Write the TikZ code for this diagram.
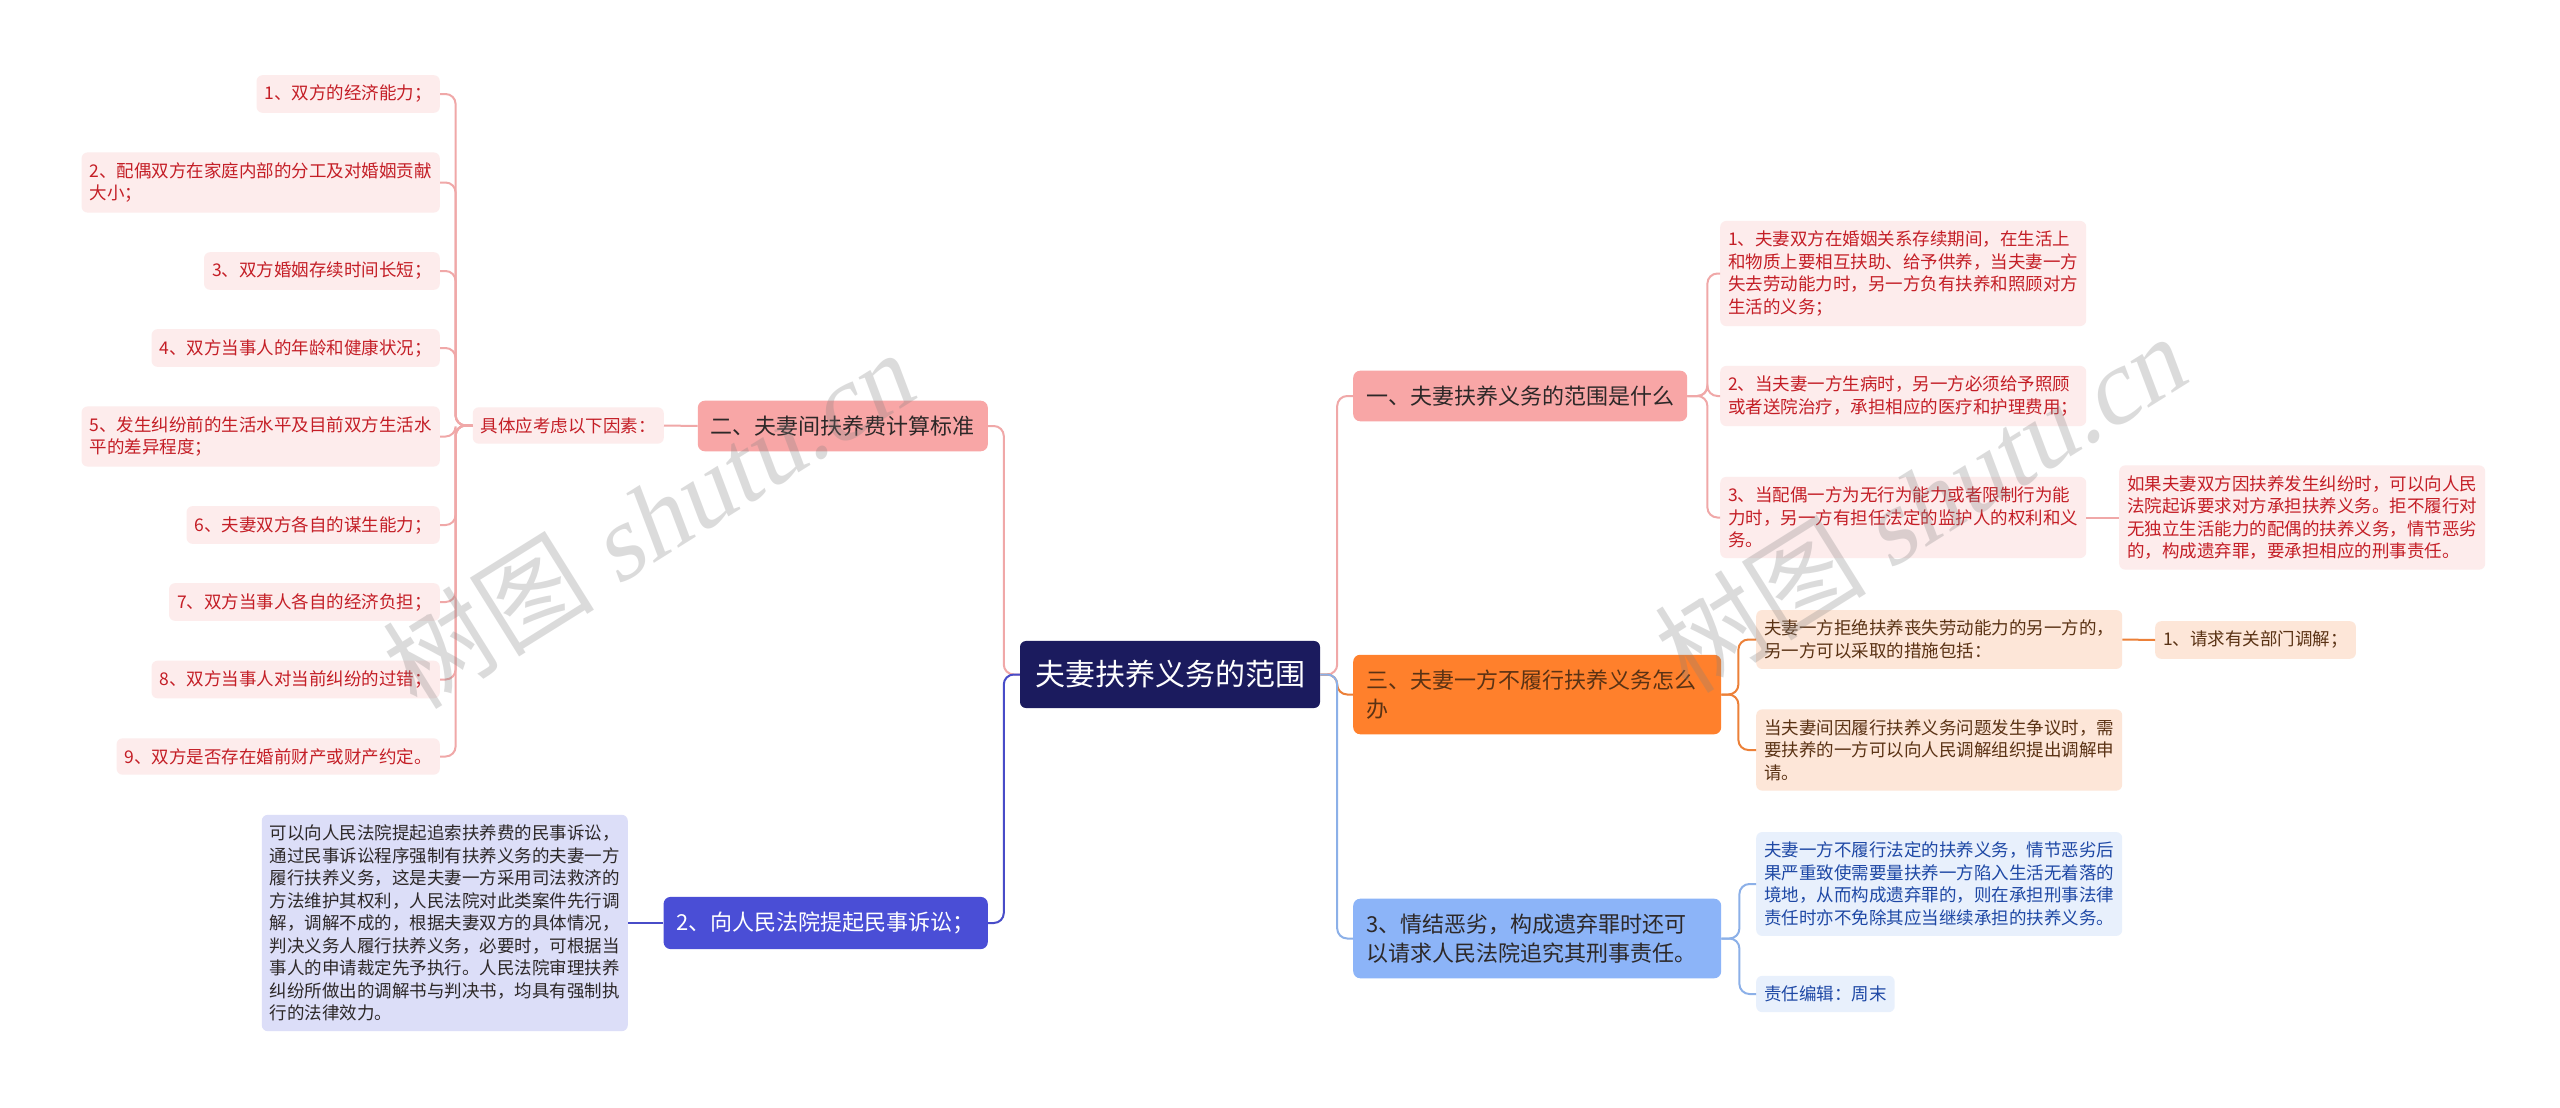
\documentclass[tikz,border=0pt]{standalone}
\usepackage{fontspec}
\setmainfont{Noto Sans CJK SC}
\newfontfamily\markfont[FakeSlant=0.2]{Liberation Serif}
\usepackage{xcolor}
\usetikzlibrary{positioning, calc}

\definecolor{rootfill}{RGB}{27,27,94}
\definecolor{pinkfill}{RGB}{248,166,166}
\definecolor{pinkleaf}{RGB}{253,236,236}
\definecolor{pinktext}{RGB}{196,30,38}
\definecolor{pinkline}{RGB}{240,168,168}
\definecolor{orangefill}{RGB}{255,128,44}
\definecolor{orangeleaf}{RGB}{253,230,216}
\definecolor{orangetext}{RGB}{90,50,20}
\definecolor{orangeline}{RGB}{236,128,56}
\definecolor{bluefill}{RGB}{140,180,248}
\definecolor{blueleaf}{RGB}{232,240,252}
\definecolor{bluetext}{RGB}{30,72,165}
\definecolor{blueline}{RGB}{140,176,232}
\definecolor{indigofill}{RGB}{74,78,214}
\definecolor{indigoleaf}{RGB}{220,222,248}
\definecolor{indigoline}{RGB}{72,76,200}
\definecolor{darktext}{RGB}{45,40,40}

\begin{document}
\begin{tikzpicture}[x=1pt, y=-1pt,
    rootbox/.style={fill=rootfill, text=white, rounded corners=6, inner xsep=15, inner ysep=19.5, font=\fontsize{30}{36}\selectfont},
    topic/.style={rounded corners=7, inner xsep=13, inner ysep=15, align=left, font=\fontsize{22}{29}\selectfont},
    leaf/.style={rounded corners=6, inner xsep=8, inner ysep=10, align=left, font=\fontsize{17.5}{22.5}\selectfont},
    link/.style={line width=2, rounded corners=10},
    watermark/.style={rotate=32, text=black!50, opacity=0.28, font=\fontsize{106}{106}\selectfont}]
    \useasboundingbox[fill=white] (0,0) rectangle (2560,1108);

    % Centre
    \node[rootbox] (root) at (1170,674.5) {夫妻扶养义务的范围};

    % Left: calculation standard
    \node[topic, fill=pinkfill, text=darktext, anchor=east] (er) at (988,426) {二、夫妻间扶养费计算标准};
    \node[leaf, fill=pinkleaf, text=pinktext, anchor=east] (kaolv) at (664,425.5) {具体应考虑以下因素：};
    \node[leaf, fill=pinkleaf, text=pinktext, anchor=east] (f1) at (440,94) {1、双方的经济能力；};
    \node[leaf, fill=pinkleaf, text=pinktext, anchor=east] (f2) at (440,182.5) {2、配偶双方在家庭内部的分工及对婚姻贡献\\大小；};
    \node[leaf, fill=pinkleaf, text=pinktext, anchor=east] (f3) at (440,271) {3、双方婚姻存续时间长短；};
    \node[leaf, fill=pinkleaf, text=pinktext, anchor=east] (f4) at (440,348) {4、双方当事人的年龄和健康状况；};
    \node[leaf, fill=pinkleaf, text=pinktext, anchor=east] (f5) at (440,436.5) {5、发生纠纷前的生活水平及目前双方生活水\\平的差异程度；};
    \node[leaf, fill=pinkleaf, text=pinktext, anchor=east] (f6) at (440,525) {6、夫妻双方各自的谋生能力；};
    \node[leaf, fill=pinkleaf, text=pinktext, anchor=east] (f7) at (440,602) {7、双方当事人各自的经济负担；};
    \node[leaf, fill=pinkleaf, text=pinktext, anchor=east] (f8) at (440,679.5) {8、双方当事人对当前纠纷的过错；};
    \node[leaf, fill=pinkleaf, text=pinktext, anchor=east] (f9) at (440,756.5) {9、双方是否存在婚前财产或财产约定。};

    % Left: lawsuit
    \node[topic, fill=indigofill, text=white, anchor=east] (su) at (988,923) {2、向人民法院提起民事诉讼；};
    \node[leaf, fill=indigoleaf, text=darktext, anchor=east] (sutext) at (628,923) {可以向人民法院提起追索扶养费的民事诉讼，\\通过民事诉讼程序强制有扶养义务的夫妻一方\\履行扶养义务，这是夫妻一方采用司法救济的\\方法维护其权利，人民法院对此类案件先行调\\解，调解不成的，根据夫妻双方的具体情况，\\判决义务人履行扶养义务，必要时，可根据当\\事人的申请裁定先予执行。人民法院审理扶养\\纠纷所做出的调解书与判决书，均具有强制执\\行的法律效力。};

    % Right: scope of the duty
    \node[topic, fill=pinkfill, text=darktext, anchor=west] (yi) at (1353,396) {一、夫妻扶养义务的范围是什么};
    \node[leaf, fill=pinkleaf, text=pinktext, anchor=west] (y1) at (1720,273.5) {1、夫妻双方在婚姻关系存续期间，在生活上\\和物质上要相互扶助、给予供养，当夫妻一方\\失去劳动能力时，另一方负有扶养和照顾对方\\生活的义务；};
    \node[leaf, fill=pinkleaf, text=pinktext, anchor=west] (y2) at (1720,396) {2、当夫妻一方生病时，另一方必须给予照顾\\或者送院治疗，承担相应的医疗和护理费用；};
    \node[leaf, fill=pinkleaf, text=pinktext, anchor=west] (y3) at (1720,517.5) {3、当配偶一方为无行为能力或者限制行为能\\力时，另一方有担任法定的监护人的权利和义\\务。};
    \node[leaf, fill=pinkleaf, text=pinktext, anchor=west] (y3x) at (2119,517.5) {如果夫妻双方因扶养发生纠纷时，可以向人民\\法院起诉要求对方承担扶养义务。拒不履行对\\无独立生活能力的配偶的扶养义务，情节恶劣\\的，构成遗弃罪，要承担相应的刑事责任。};

    % Right: refusal
    \node[topic, fill=orangefill, text=orangetext, anchor=west, text width=342] (san) at (1353,694.5) {三、夫妻一方不履行扶养义务怎么\\办};
    \node[leaf, fill=orangeleaf, text=orangetext, anchor=west] (s1) at (1756,639.5) {夫妻一方拒绝扶养丧失劳动能力的另一方的，\\另一方可以采取的措施包括：};
    \node[leaf, fill=orangeleaf, text=orangetext, anchor=west] (s1x) at (2155,640) {1、请求有关部门调解；};
    \node[leaf, fill=orangeleaf, text=orangetext, anchor=west] (s2) at (1756,750) {当夫妻间因履行扶养义务问题发生争议时，需\\要扶养的一方可以向人民调解组织提出调解申\\请。};

    % Right: criminal liability
    \node[topic, fill=bluefill, text=darktext, anchor=west, text width=342] (qing) at (1353,938.5) {3、情结恶劣，构成遗弃罪时还可\\以请求人民法院追究其刑事责任。};
    \node[leaf, fill=blueleaf, text=bluetext, anchor=west] (q1) at (1756,884) {夫妻一方不履行法定的扶养义务，情节恶劣后\\果严重致使需要量扶养一方陷入生活无着落的\\境地，从而构成遗弃罪的，则在承担刑事法律\\责任时亦不免除其应当继续承担的扶养义务。};
    \node[leaf, fill=blueleaf, text=bluetext, anchor=west] (q2) at (1756,994) {责任编辑：周末};

    % Connectors
    \draw[link, pinkline] (root.west) -- ++(-16,0) |- (er.east);
    \draw[link, indigoline] (root.west) -- ++(-16,0) |- (su.east);
    \draw[link, pinkline] (er.west) -- (kaolv.east);
    \foreach \n in {1,...,9}
        \draw[link, pinkline] (kaolv.west) -- ++(-17,0) |- (f\n.east);
    \draw[link, indigoline] (su.west) -- (sutext.east);

    \draw[link, pinkline] (root.east) -- ++(17,0) |- (yi.west);
    \draw[link, orangeline] (root.east) -- ++(17,0) |- (san.west);
    \draw[link, blueline] (root.east) -- ++(17,0) |- (qing.west);
    \foreach \n in {1,2,3}
        \draw[link, pinkline] (yi.east) -- ++(20,0) |- (y\n.west);
    \draw[link, pinkline] (y3.east) -- (y3x.west);
    \foreach \n in {1,2}
        \draw[link, orangeline] (san.east) -- ++(17,0) |- (s\n.west);
    \draw[link, orangeline] (s1.east) -- (s1x.west);
    \foreach \n in {1,2}
        \draw[link, blueline] (qing.east) -- ++(18,0) |- (q\n.west);

    % Watermarks
    \node[watermark] (wmleft) at (647,520) {树图 {\markfont shutu.cn}};
    \node[watermark] (wmright) at (1919,504) {树图 {\markfont shutu.cn}};
\end{tikzpicture}
\end{document}
